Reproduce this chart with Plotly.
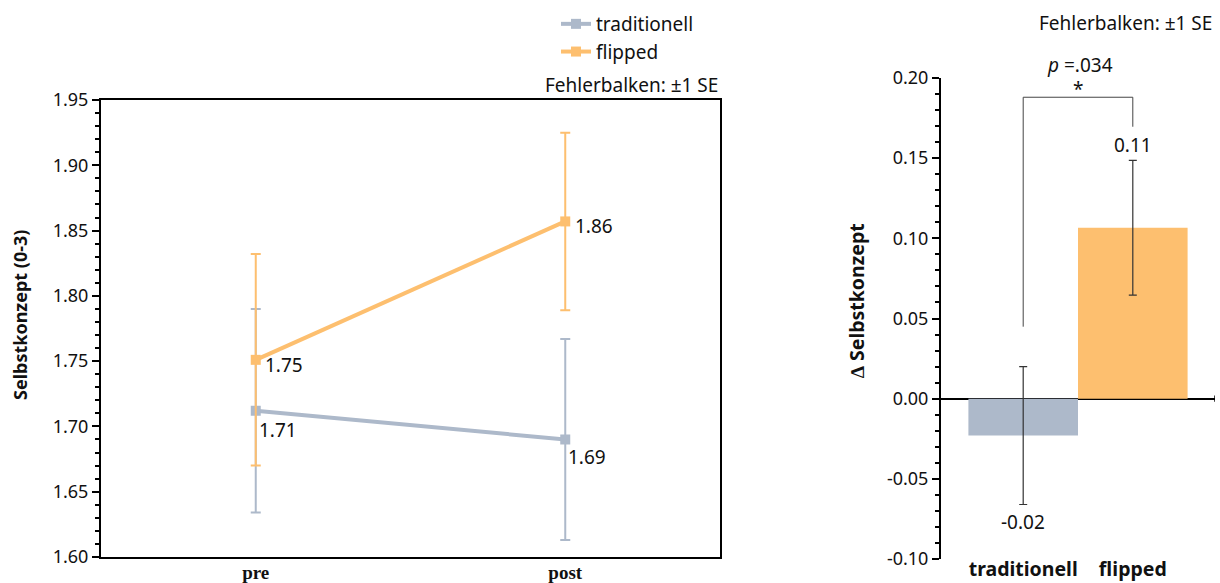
import plotly.graph_objects as go

# ---------------- data ----------------
phases = ["pre", "post"]
trad_mean = [1.712, 1.690]
trad_se = [0.078, 0.077]
flip_mean = [1.751, 1.857]
flip_se = [0.081, 0.068]

groups = ["traditionell", "flipped"]
delta_mean = [-0.023, 0.1066]
delta_se = [0.043, 0.042]
p_value = ".034"

left_ticks = [1.60, 1.65, 1.70, 1.75, 1.80, 1.85, 1.90, 1.95]
right_ticks = [-0.10, -0.05, 0.00, 0.05, 0.10, 0.15, 0.20]

GREY = "#ADB9CA"
ORANGE = "#FDBF6F"
FONT = "Noto Sans"
W, H = 1220, 583
TXT = 19

fig = go.Figure()

# ---------------- left: line chart ----------------
for name, mean, se, col in [("traditionell", trad_mean, trad_se, GREY),
                             ("flipped", flip_mean, flip_se, ORANGE)]:
    fig.add_trace(go.Scatter(
        x=[0, 1], y=mean, name=name, mode="lines+markers",
        line=dict(color=col, width=4),
        marker=dict(symbol="square", size=10, color=col),
        error_y=dict(type="data", array=se, color=col, thickness=2, width=5),
        xaxis="x", yaxis="y"))

# value labels left
label_specs = [
    (0, trad_mean[0], 1, -19),
    (1, trad_mean[1], 1, -18),
    (0, flip_mean[0], 7, -5),
    (1, flip_mean[1], 8, -5),
]
annotations = []
for x, y, xs, ys in label_specs:
    annotations.append(dict(x=x, y=y, xref="x", yref="y", text=f"{y:.2f}",
                            showarrow=False, xanchor="left", yanchor="middle",
                            xshift=xs, yshift=ys,
                            font=dict(family=FONT, size=TXT, color="#111")))

# ---------------- right: bar chart ----------------
fig.add_trace(go.Bar(
    x=[0, 1], y=delta_mean, width=1.0,
    marker=dict(color=[GREY, ORANGE], line=dict(width=0)),
    error_y=dict(type="data", array=delta_se, color="#333", thickness=1.2, width=4),
    xaxis="x2", yaxis="y2", showlegend=False))

# bar value labels
annotations.append(dict(x=1, y=delta_mean[1] + delta_se[1], xref="x2", yref="y2",
                        text=f"{delta_mean[1]:.2f}", showarrow=False,
                        yanchor="bottom", yshift=0,
                        font=dict(family=FONT, size=TXT, color="#111")))
annotations.append(dict(x=0, y=delta_mean[0] - delta_se[0], xref="x2", yref="y2",
                        text=f"{delta_mean[0]:.2f}", showarrow=False,
                        yanchor="top", yshift=-3,
                        font=dict(family=FONT, size=TXT, color="#111")))

# significance bracket
br_top = 0.188
fig.add_shape(type="path", xref="x2", yref="y2",
              path=f"M 0,0.0449 L 0,{br_top} L 1,{br_top} L 1,0.1696",
              line=dict(color="#444", width=1))
annotations.append(dict(x=0.5, y=br_top, xref="x2", yref="y2", text="*",
                        showarrow=False, yanchor="bottom", yshift=-7,
                        font=dict(family=FONT, size=TXT, color="#111")))
annotations.append(dict(x=0.52, y=br_top, xref="x2", yref="y2",
                        text=f"<i>p</i> ={p_value}", showarrow=False,
                        yanchor="bottom", yshift=17,
                        font=dict(family=FONT, size=TXT, color="#111")))

# small end mark of the zero line
fig.add_shape(type="line", xref="x2", yref="y2", x0=1.75, x1=1.75,
              y0=-0.002, y1=0.002, line=dict(color="black", width=1.5))

# notes
annotations.append(dict(x=720 / W, y=1 - 85 / H, xref="paper", yref="paper",
                        text="Fehlerbalken: ±1 SE", showarrow=False,
                        xanchor="right", yanchor="middle",
                        font=dict(family=FONT, size=TXT, color="#111")))
annotations.append(dict(x=1214 / W, y=1 - 23 / H, xref="paper", yref="paper",
                        text="Fehlerbalken: ±1 SE", showarrow=False,
                        xanchor="right", yanchor="middle",
                        font=dict(family=FONT, size=TXT, color="#111")))

# axis titles
annotations.append(dict(x=20 / W, y=1 - 315 / H, xref="paper", yref="paper",
                        text="<b>Selbstkonzept (0-3)</b>", showarrow=False,
                        textangle=-90, xanchor="center", yanchor="middle",
                        font=dict(family=FONT, size=18, color="#111")))
annotations.append(dict(x=856 / W, y=1 - 301 / H, xref="paper", yref="paper",
                        text="<b>\u2206 Selbstkonzept</b>", showarrow=False,
                        textangle=-90, xanchor="center", yanchor="middle",
                        font=dict(family=FONT, size=19.5, color="#111")))

fig.update_layout(
    width=W, height=H, autosize=False,
    margin=dict(l=0, r=0, t=0, b=0),
    paper_bgcolor="white", plot_bgcolor="white",
    font=dict(family=FONT, color="#111"),
    showlegend=True,
    legend=dict(x=556 / W, y=1 - 5 / H, xanchor="left", yanchor="top",
                font=dict(family=FONT, size=TXT, color="#111"),
                bgcolor="rgba(0,0,0,0)", tracegroupgap=0),
    annotations=annotations,
    xaxis=dict(domain=[101 / W, 720 / W], range=[-0.5, 1.5], anchor="y",
               tickmode="array", tickvals=[0, 1],
               ticktext=[f"<b>{p}</b>" for p in phases],
               tickfont=dict(family="Liberation Serif", size=19, color="#111"),
               ticklabelstandoff=-3,
               showline=True, mirror=True, linecolor="black", linewidth=2,
               ticks="", showgrid=False, zeroline=False, automargin=False),
    yaxis=dict(domain=[1 - 557 / H, 1 - 100 / H], range=[1.60, 1.95], anchor="x",
               tickmode="array", tickvals=left_ticks,
               ticktext=[f"{v:.2f}" for v in left_ticks],
               tickfont=dict(family=FONT, size=18, color="#111"),
               ticks="outside", ticklen=7, tickwidth=1.5, tickcolor="black",
               minor=dict(tickmode="linear", tick0=1.60, dtick=0.01, ticks="outside",
                          ticklen=4, tickwidth=1.5, tickcolor="black", showgrid=False),
               showline=True, mirror=True, linecolor="black", linewidth=2,
               showgrid=False, zeroline=False, automargin=False),
    xaxis2=dict(domain=[941 / W, 1215 / W], range=[-0.75, 1.75], anchor="y2",
                tickmode="array", tickvals=[0, 1],
                ticktext=[f"<b>{g}</b>" for g in groups],
                tickfont=dict(family=FONT, size=19.5, color="#111"),
                ticklabelstandoff=-4,
                showline=False, ticks="", showgrid=False, zeroline=False,
                automargin=False),
    yaxis2=dict(domain=[1 - 559 / H, 1 - 78 / H], range=[-0.10, 0.20], anchor="x2",
                tickmode="array", tickvals=right_ticks,
                ticktext=[f"{v:.2f}" for v in right_ticks],
                tickfont=dict(family=FONT, size=18, color="#111"),
                ticks="outside", ticklen=7, tickwidth=1.5, tickcolor="black",
                minor=dict(tickmode="linear", tick0=-0.10, dtick=0.01, ticks="outside",
                           ticklen=4, tickwidth=1.5, tickcolor="black", showgrid=False),
                showline=True, linecolor="black", linewidth=2,
                showgrid=False, zeroline=True, zerolinecolor="black", zerolinewidth=2,
                automargin=False),
)

fig.write_html("out.html")
